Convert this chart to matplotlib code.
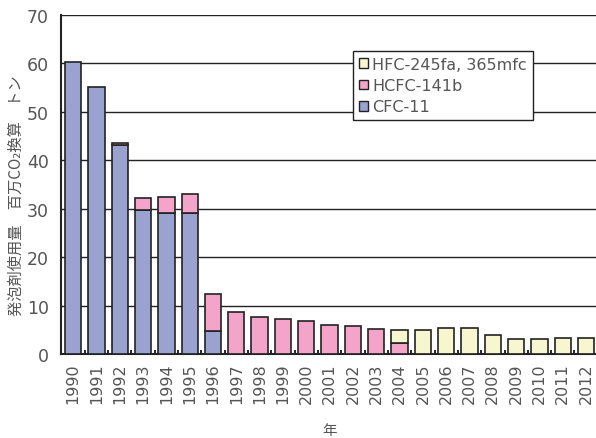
import numpy as np
import matplotlib
matplotlib.use('Agg')
import matplotlib.pyplot as plt
from matplotlib.patches import Patch

plt.rcParams['font.family'] = ['DejaVu Sans', 'Noto Sans CJK JP']

# data (million t CO2 eq.)
years = [str(y) for y in range(1990, 2013)]
cfc11 = [60.3, 55.1, 43.1, 29.8, 29.1, 29.1, 4.7, 0, 0, 0, 0, 0, 0, 0, 0,
         0, 0, 0, 0, 0, 0, 0, 0]
hcfc141b = [0, 0, 0.5, 2.4, 3.4, 4.0, 7.8, 8.6, 7.7, 7.2, 6.9, 6.0, 5.8, 5.2,
            2.4, 0, 0, 0, 0, 0, 0, 0, 0]
hfc = [0, 0, 0, 0, 0, 0, 0, 0, 0, 0, 0, 0, 0, 0, 2.6, 5.0, 5.3, 5.3, 3.9,
       3.1, 3.1, 3.4, 3.4]
labels = ['HFC-245fa, 365mfc', 'HCFC-141b', 'CFC-11']

c_cfc = '#9aa2d0'
c_hcfc = '#f3a4c8'
c_hfc = '#f7f7cf'
txt = '#555555'
edge = '#222222'
jp = ['Noto Sans CJK JP', 'DejaVu Sans']

fig = plt.figure(figsize=(5.96, 4.39), dpi=100)
ax = fig.add_axes([0.103, 0.191, 0.902, 0.773])

x = np.arange(len(years))
w = 0.7
cfc = np.array(cfc11)
hc = np.array(hcfc141b)
hf = np.array(hfc)
b1 = ax.bar(x, cfc, w, color=c_cfc, edgecolor=edge, linewidth=1.2, zorder=3)
b2 = ax.bar(x, hc, w, bottom=cfc, color=c_hcfc, edgecolor=edge, linewidth=1.2, zorder=3)
b3 = ax.bar(x, hf, w, bottom=cfc + hc, color=c_hfc, edgecolor=edge, linewidth=1.2, zorder=3)
# hide zero-height outlines
for bars, vals in ((b1, cfc), (b2, hc), (b3, hf)):
    for r, v in zip(bars, vals):
        if v == 0:
            r.set_visible(False)

ax.set_xlim(-0.5, len(years) - 0.45)
ax.set_ylim(0, 70)
ax.set_yticks(range(0, 71, 10))
ax.yaxis.grid(True, color=edge, linewidth=1.0, zorder=0)
ax.set_axisbelow(True)
ax.set_xticks(x)
ax.set_xticklabels(years, rotation=90, fontsize=11.5, color=txt)
ax.set_xticks(np.arange(-0.5, len(years), 1), minor=True)
ax.tick_params(axis='x', which='major', length=0, pad=6)
ax.tick_params(axis='x', which='minor', length=3, direction='in', width=1.2)
ax.tick_params(axis='y', labelsize=12.5, colors=txt, length=0, pad=9)
for s in ['top', 'right']:
    ax.spines[s].set_visible(False)
for s in ['left', 'bottom']:
    ax.spines[s].set_linewidth(1.5)
    ax.spines[s].set_color(edge)

fig.text(16 / 596, 1 - 196 / 439, '発泡剤使用量　百万CO₂換算　トン', fontsize=11,
         color=txt, rotation=90, ha='center', va='center', family=jp)
fig.text(330 / 596, 1 - 431 / 439, '年', fontsize=10.5, color=txt,
         ha='center', va='center', family=jp)

handles = [Patch(facecolor=c, edgecolor=edge, linewidth=1.0)
           for c in (c_hfc, c_hcfc, c_cfc)]
leg = ax.legend(handles, labels,
                loc='upper left', bbox_to_anchor=(0.543, 0.893), fontsize=11.5,
                frameon=True, fancybox=False, framealpha=1, edgecolor=edge,
                handlelength=0.55, handleheight=0.55, handletextpad=0.3,
                labelspacing=0.4, borderpad=0.35, borderaxespad=0,
                labelcolor=txt)
leg.get_frame().set_linewidth(1.0)
leg.set_zorder(5)

fig.savefig('out.png', dpi=100)
